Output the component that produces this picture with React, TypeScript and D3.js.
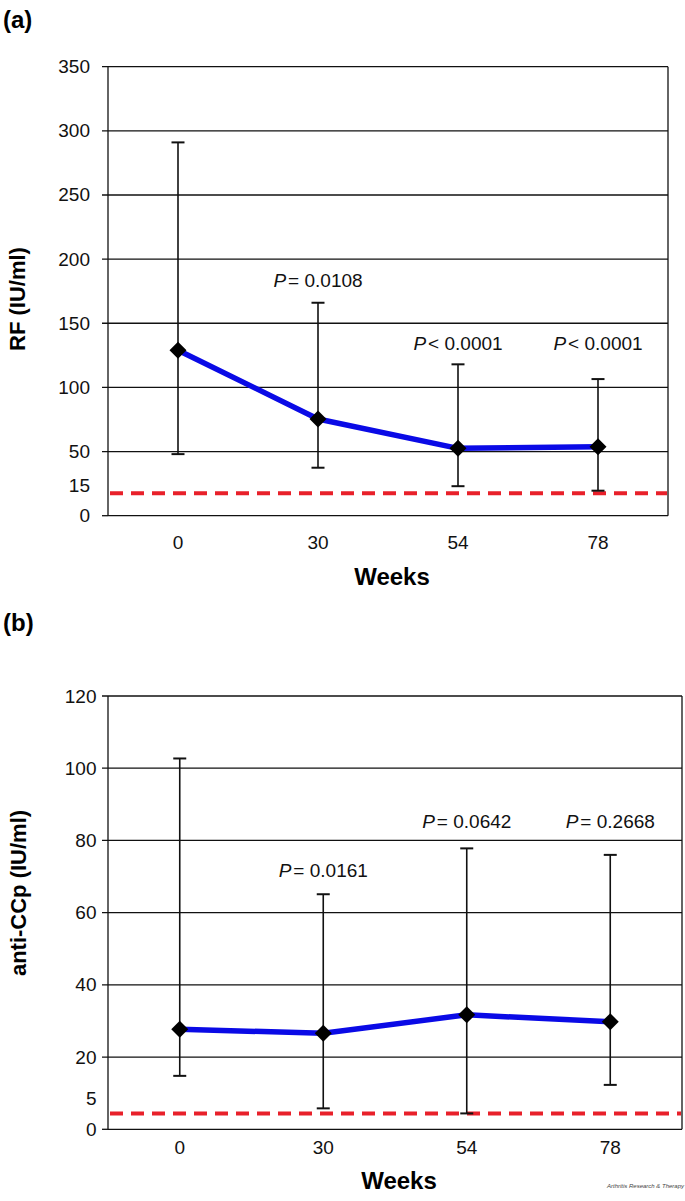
import React from "react";
import * as d3 from "d3";

// ---------- data ----------
const weeks = ["0", "30", "54", "78"];

const rfMean = [129, 75.4, 52.5, 53.8];
const rfUpper = [291, 166, 118, 106.5];
const rfLower = [48, 37.4, 23, 19.5];
const rfPText = ["", "= 0.0108", "< 0.0001", "< 0.0001"];
const rfPLevel = [0, 183.7, 134.8, 134.8];
const rfTicks = [0, 50, 100, 150, 200, 250, 300, 350];
const rfCutoff = 17.5;
const rfCutoffLabel = "15";

const ccpMean = [27.7, 26.6, 31.7, 29.8];
const ccpUpper = [102.7, 65.1, 77.8, 76];
const ccpLower = [14.8, 5.8, 4.4, 12.3];
const ccpPText = ["", "= 0.0161", "= 0.0642", "= 0.2668"];
const ccpPLevel = [0, 71.8, 85.4, 85.4];
const ccpTicks = [0, 20, 40, 60, 80, 100, 120];
const ccpCutoff = 4.4;
const ccpCutoffLabel = "5";

const FONT = "'Liberation Sans', Arial, Helvetica, sans-serif";

type PanelProps = {
  tag: string;
  tagY: number;
  yTitle: string;
  yTitleX: number;
  yTitleY: number;
  left: number;
  right: number;
  top: number;
  bottom: number;
  yMax: number;
  ticks: number[];
  mean: number[];
  upper: number[];
  lower: number[];
  pText: string[];
  pLevel: number[];
  cutoff: number;
  cutoffLabel: string;
  cutoffLabelShift: number;
  tickLabelRight: number;
  xLabelY: number;
  weeksY: number;
};

function Panel(p: PanelProps) {
  const x = d3.scaleBand<string>().domain(weeks).range([p.left, p.right]);
  const y = d3.scaleLinear().domain([0, p.yMax]).range([p.bottom, p.top]);
  const cx = (w: string) => (x(w) as number) + x.bandwidth() / 2;
  const line = d3
    .line<number>()
    .x((_, i) => cx(weeks[i]))
    .y((d) => y(d));
  const ds = 8.5;
  return (
    <g fontFamily={FONT}>
      <text x={3} y={p.tagY} fontSize={24} fontWeight="bold" dominantBaseline="central">
        {p.tag}
      </text>
      {/* grid lines */}
      {p.ticks.map((t) => (
        <g key={t}>
          <line x1={p.left - 6} x2={t === 0 ? p.left : p.right} y1={y(t)} y2={y(t)} stroke="#111" strokeWidth={1.3} />
          <text x={p.tickLabelRight} y={y(t)} fontSize={19} textAnchor="end" dominantBaseline="central" fill="#111">
            {t}
          </text>
        </g>
      ))}
      <text
        x={p.tickLabelRight}
        y={y(p.cutoff) - p.cutoffLabelShift}
        fontSize={19}
        textAnchor="end"
        dominantBaseline="central"
        fill="#111"
      >
        {p.cutoffLabel}
      </text>
      {/* frame */}
      <line x1={p.left} x2={p.left} y1={y(p.yMax)} y2={y(0)} stroke="#111" strokeWidth={1.3} />
      <line x1={p.right} x2={p.right} y1={y(p.yMax)} y2={y(0)} stroke="#111" strokeWidth={1.3} />
      <line x1={p.left} x2={p.right} y1={y(0)} y2={y(0)} stroke="#111" strokeWidth={1.3} />
      {/* cutoff */}
      <line
        x1={p.left + 2}
        x2={p.right - 1}
        y1={y(p.cutoff)}
        y2={y(p.cutoff)}
        stroke="#e8202a"
        strokeWidth={4}
        strokeDasharray="13 8"
      />
      {/* error bars */}
      {weeks.map((w, i) => (
        <g key={w} stroke="#111" strokeWidth={1.6}>
          <line x1={cx(w)} x2={cx(w)} y1={y(p.upper[i])} y2={y(p.lower[i])} />
          <line x1={cx(w) - 6.5} x2={cx(w) + 6.5} y1={y(p.upper[i])} y2={y(p.upper[i])} strokeWidth={2} />
          <line x1={cx(w) - 6.5} x2={cx(w) + 6.5} y1={y(p.lower[i])} y2={y(p.lower[i])} strokeWidth={2} />
        </g>
      ))}
      {/* mean line */}
      <path d={line(p.mean) || ""} fill="none" stroke="#0a0ae6" strokeWidth={5.5} strokeLinejoin="round" />
      {p.mean.map((m, i) => {
        const px = cx(weeks[i]);
        const py = y(m);
        return (
          <path
            key={i}
            d={`M${px},${py - ds}L${px + ds},${py}L${px},${py + ds}L${px - ds},${py}Z`}
            fill="#000"
          />
        );
      })}
      {/* P labels */}
      {p.pText.map((t, i) =>
        t ? (
          <text key={i} x={cx(weeks[i])} y={y(p.pLevel[i])} fontSize={19} textAnchor="middle" dominantBaseline="central" fill="#111">
            <tspan fontStyle="italic">P</tspan>
            <tspan dx={2}>{t}</tspan>
          </text>
        ) : null
      )}
      {/* x tick labels */}
      {weeks.map((w) => (
        <text key={w} x={cx(w)} y={p.xLabelY} fontSize={19} textAnchor="middle" dominantBaseline="central" fill="#111">
          {w}
        </text>
      ))}
      <text x={(p.left + p.right) / 2 + 4} y={p.weeksY} fontSize={24} fontWeight="bold" textAnchor="middle" dominantBaseline="central">
        Weeks
      </text>
      <text
        transform={`translate(${p.yTitleX},${p.yTitleY}) rotate(-90)`}
        fontSize={22}
        fontWeight="bold"
        textAnchor="middle"
        dominantBaseline="central"
      >
        {p.yTitle}
      </text>
    </g>
  );
}

export default function App() {
  return (
    <svg
      width={685}
      height={1201}
      style={{ position: "absolute", left: 0, top: 0, background: "#fff" }}
    >
      <rect width={685} height={1201} fill="#fff" />
      <Panel
        tag="(a)"
        tagY={19}
        yTitle="RF (IU/ml)"
        yTitleX={17}
        yTitleY={299}
        left={108}
        right={668}
        top={66.7}
        bottom={515.7}
        yMax={350}
        ticks={rfTicks}
        mean={rfMean}
        upper={rfUpper}
        lower={rfLower}
        pText={rfPText}
        pLevel={rfPLevel}
        cutoff={rfCutoff}
        cutoffLabel={rfCutoffLabel}
        cutoffLabelShift={8}
        tickLabelRight={90}
        xLabelY={542}
        weeksY={576}
      />
      <Panel
        tag="(b)"
        tagY={622}
        yTitle="anti-CCp (IU/ml)"
        yTitleX={18}
        yTitleY={893}
        left={108}
        right={682}
        top={696}
        bottom={1129.3}
        yMax={120}
        ticks={ccpTicks}
        mean={ccpMean}
        upper={ccpUpper}
        lower={ccpLower}
        pText={ccpPText}
        pLevel={ccpPLevel}
        cutoff={ccpCutoff}
        cutoffLabel={ccpCutoffLabel}
        cutoffLabelShift={14.5}
        tickLabelRight={96.5}
        xLabelY={1147}
        weeksY={1180}
      />
      <text x={684} y={1188} fontSize={6} fontStyle="italic" textAnchor="end" fill="#444" fontFamily={FONT}>
        Arthritis Research &amp; Therapy
      </text>
    </svg>
  );
}
